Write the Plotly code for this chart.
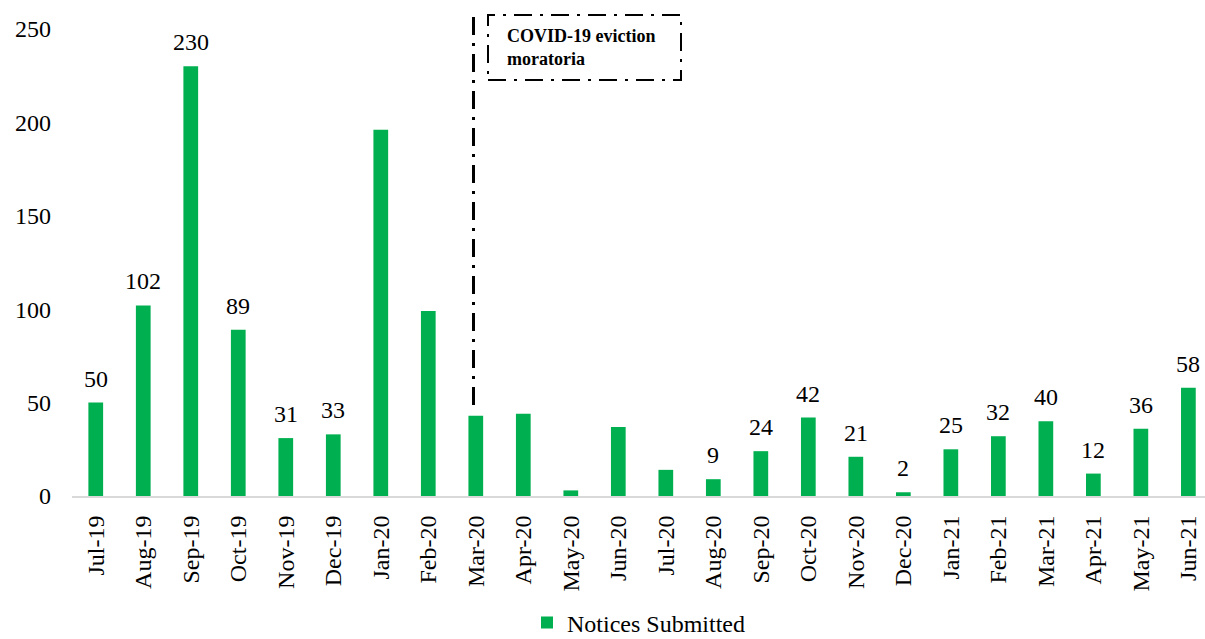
import plotly.graph_objects as go

months = ["Jul-19", "Aug-19", "Sep-19", "Oct-19", "Nov-19", "Dec-19", "Jan-20", "Feb-20",
          "Mar-20", "Apr-20", "May-20", "Jun-20", "Jul-20", "Aug-20", "Sep-20", "Oct-20",
          "Nov-20", "Dec-20", "Jan-21", "Feb-21", "Mar-21", "Apr-21", "May-21", "Jun-21"]
notices = [50, 102, 230, 89, 31, 33, 196, 99, 43, 44, 3, 37, 14, 9, 24, 42, 21, 2, 25, 32, 40, 12, 36, 58]
show_label = [True, True, True, True, True, True, False, False, False, False, False, False, False,
              True, True, True, True, True, True, True, True, True, True, True]
series_name = "Notices Submitted"
annotation_text = "COVID-19 eviction<br>moratoria"

FONT = "Liberation Serif"
GREEN = "#00B050"

fig = go.Figure()
fig.add_trace(go.Bar(
    x=months, y=notices, name=series_name,
    marker=dict(color=GREEN, line=dict(width=0)),
    width=0.31,
))

for m, v, s in zip(months, notices, show_label):
    if s:
        fig.add_annotation(x=m, y=v, text=str(v), showarrow=False,
                           xanchor="center", yanchor="bottom", yshift=9,
                           font=dict(family=FONT, size=24, color="black"))

# plot area in pixels: left 72, right 1205, top 29, bottom 496
L, R, T, B = 72, 1205, 29, 496
def px(xp):
    return (xp - L) / (R - L)
def py(yp):
    return (B - yp) / (B - T)

dash = "18px,8px,3px,8px"
fig.add_shape(type="line", xref="paper", yref="paper",
              x0=px(473.5), x1=px(473.5), y0=py(405), y1=py(15),
              line=dict(color="black", width=3, dash=dash))
fig.add_shape(type="rect", xref="paper", yref="paper",
              x0=px(488), x1=px(681), y0=py(80), y1=py(15),
              line=dict(color="black", width=2, dash=dash), fillcolor="rgba(0,0,0,0)")
fig.add_annotation(xref="paper", yref="paper", x=px(505), y=py(48),
                   xanchor="left", yanchor="middle", align="left", showarrow=False,
                   text="<b>" + annotation_text + "</b>",
                   font=dict(family=FONT, size=18, color="black"))

fig.update_layout(
    width=1205, height=639,
    margin=dict(l=L, r=1205 - R, t=T, b=639 - B, autoexpand=False),
    plot_bgcolor="white", paper_bgcolor="white",
    font=dict(family=FONT, size=24, color="black"),
    showlegend=True,
    legend=dict(orientation="h", x=0.5, xanchor="center",
                yref="container", y=(639 - 623) / 639, yanchor="middle",
                font=dict(family=FONT, size=24), itemwidth=30),
)
fig.update_xaxes(
    type="category", range=[-0.5, 23.35],
    tickangle=-90, tickfont=dict(family=FONT, size=24),
    showline=True, linecolor="#D9D9D9", linewidth=2,
    showgrid=False, ticks="", ticklabelstandoff=8,
)
fig.update_yaxes(
    range=[0, 250], dtick=50, showgrid=False, zeroline=False, showline=False,
    tickfont=dict(family=FONT, size=24), ticks="", ticklabelstandoff=20,
)

fig.write_html("out.html")
